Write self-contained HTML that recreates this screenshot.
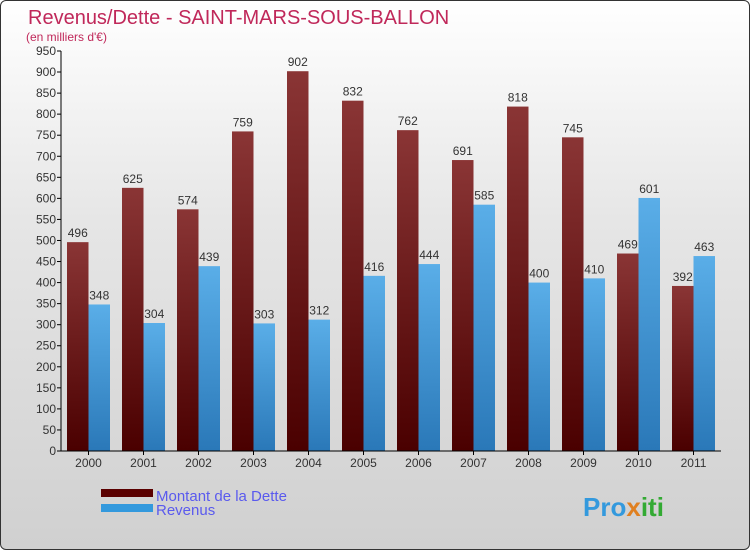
<!DOCTYPE html>
<html><head><meta charset="utf-8"><style>
body{margin:0;}
#wrap{position:relative;width:748px;height:548px;border:1px solid #333;border-radius:6px;overflow:hidden;background:linear-gradient(#ffffff,#e6e6e6 40%,#d0d0d0);font-family:"Liberation Sans",sans-serif;}
svg text{font-family:"Liberation Sans",sans-serif;}
</style></head><body>
<div id="wrap">
<svg id="chart" width="748" height="548">
<text x="27" y="23" font-size="20" fill="#c0285a">Revenus/Dette - SAINT-MARS-SOUS-BALLON</text>
<text x="25" y="40" font-size="12" fill="#c0285a">(en milliers d'€)</text>
<g id="plot"></g>
<rect x="100" y="488" width="52" height="8" fill="#5a0000"/>
<text x="155" y="500" font-size="15" fill="#5a5aee">Montant de la Dette</text>
<rect x="100" y="503" width="52" height="8" fill="#3399dd"/>
<text x="155" y="514" font-size="15" fill="#5a5aee">Revenus</text>
<text x="582" y="515" font-size="26" font-weight="bold" fill="#3399dd">Pro<tspan fill="#e08020">x</tspan><tspan fill="#33aa33">iti</tspan></text>
</svg>
</div>
<script>
const years=["2000","2001","2002","2003","2004","2005","2006","2007","2008","2009","2010","2011"];
const dette=[496,625,574,759,902,832,762,691,818,745,469,392];
const revenus=[348,304,439,303,312,416,444,585,400,410,601,463];
const yTicks=[0,50,100,150,200,250,300,350,400,450,500,550,600,650,700,750,800,850,900,950];
const NS="http://www.w3.org/2000/svg";
const g=document.getElementById("plot");
const x0=60,x1=720,y0=450,yMax=950,yTop=50;
const y=v=>y0-(v/yMax)*(y0-yTop);
const band=(x1-x0)/years.length;
const cx=i=>x0+band*(i+0.5);
function mk(t,a){const e=document.createElementNS(NS,t);for(const k in a)e.setAttribute(k,a[k]);g.appendChild(e);return e;}
const defs=mk("defs",{});
defs.innerHTML='<linearGradient id="gd" x1="0" y1="0" x2="0" y2="1"><stop offset="0" stop-color="#8a3535"/><stop offset="1" stop-color="#4a0000"/></linearGradient><linearGradient id="gr" x1="0" y1="0" x2="0" y2="1"><stop offset="0" stop-color="#5aaee8"/><stop offset="1" stop-color="#2a78b8"/></linearGradient>';
yTicks.forEach(v=>{
 const l=mk("line",{x1:x0-4,x2:x0,y1:y(v),y2:y(v),stroke:"#000"});
 
 
 const t=mk("text",{x:x0-5,y:y(v)+4,"text-anchor":"end","font-size":"12",fill:"#333"});
 t.textContent=v;
 
 
});
years.forEach((yr,i)=>{
 const c=cx(i),w=21.5;
 const bd=mk("rect",{x:c-w,y:y(dette[i]),width:w,height:y0-y(dette[i]),fill:"url(#gd)"});
 
 
 const br=mk("rect",{x:c,y:y(revenus[i]),width:w,height:y0-y(revenus[i]),fill:"url(#gr)"});
 
 
 const td=mk("text",{x:c-w/2,y:y(dette[i])-5,"text-anchor":"middle","font-size":"12",fill:"#333"});
 td.textContent=dette[i];
 
 
 const tr=mk("text",{x:c+w/2,y:y(revenus[i])-5,"text-anchor":"middle","font-size":"12",fill:"#333"});
 tr.textContent=revenus[i];
 
 
 const tk=mk("line",{x1:c,x2:c,y1:y0,y2:y0+4,stroke:"#000"});
 
 
 const xl=mk("text",{x:c,y:y0+16,"text-anchor":"middle","font-size":"12",fill:"#333"});
 xl.textContent=yr;
 
 
});
const ya=mk("line",{x1:x0,x2:x0,y1:yTop,y2:y0,stroke:"#000"});


const xa=mk("line",{x1:x0,x2:x1,y1:y0,y2:y0,stroke:"#000"});


</script>
</body></html>
